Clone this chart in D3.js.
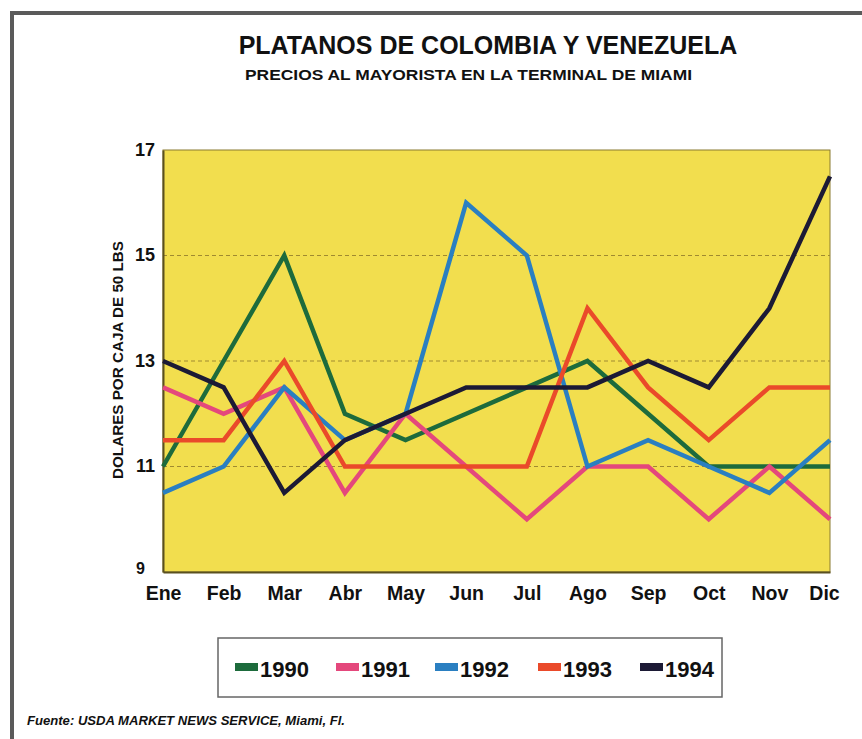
<!DOCTYPE html>
<html>
<head>
<meta charset="utf-8">
<script src="https://cdn.jsdelivr.net/npm/d3@7"></script>
<style>
  body { margin: 0; background: #fff; }
  svg { font-family: "Liberation Sans", Arial, sans-serif; }
</style>
</head>
<body>
<svg id="chart"></svg>
<script>
// Data
const months = ["Ene", "Feb", "Mar", "Abr", "May", "Jun", "Jul", "Ago", "Sep", "Oct", "Nov", "Dic"];
const years = ["1990", "1991", "1992", "1993", "1994"];
const v1990 = [11, 13, 15, 12, 11.5, 12, 12.5, 13, 12, 11, 11, 11];
const v1991 = [12.5, 12, 12.5, 10.5, 12, 11, 10, 11, 11, 10, 11, 10];
const v1992 = [10.5, 11, 12.5, 11.5, 12, 16, 15, 11, 11.5, 11, 10.5, 11.5];
const v1993 = [11.5, 11.5, 13, 11, 11, 11, 11, 14, 12.5, 11.5, 12.5, 12.5];
const v1994 = [13, 12.5, 10.5, 11.5, 12, 12.5, 12.5, 12.5, 13, 12.5, 14, 16.5];
const yTicks = [9, 11, 13, 15, 17];

const series = [v1990, v1991, v1992, v1993, v1994];
const colors = ["#1d6b3c", "#e4487c", "#2a7fc1", "#ea4a2a", "#1c1a35"];

const width = 862;
const height = 739;
const plot = { left: 163, right: 830, top: 150, bottom: 572 };

const svg = d3.select("#chart")
    .attr("width", width)
    .attr("height", height);

// Frame (top and left edges of the page border)
svg.append("line").attr("x1", 10).attr("x2", 862).attr("y1", 13).attr("y2", 13)
    .attr("stroke", "#5a5a5a").attr("stroke-width", 4);
svg.append("line").attr("x1", 12).attr("x2", 12).attr("y1", 11).attr("y2", 739)
    .attr("stroke", "#5a5a5a").attr("stroke-width", 4);

// Titles
svg.append("text")
    .attr("x", 488).attr("y", 54)
    .attr("text-anchor", "middle")
    .attr("font-size", 25).attr("font-weight", "bold")
    .attr("fill", "#111")
    .text("PLATANOS DE COLOMBIA Y VENEZUELA");
svg.append("text")
    .attr("x", 245).attr("y", 80)
    .attr("font-size", 15.5).attr("font-weight", "bold")
    .attr("fill", "#111")
    .attr("textLength", 447).attr("lengthAdjust", "spacingAndGlyphs")
    .text("PRECIOS AL MAYORISTA EN LA TERMINAL DE MIAMI");

const x = d3.scalePoint()
    .domain(months)
    .range([plot.left, plot.right]);

const y = d3.scaleLinear()
    .domain([9, 17])
    .range([plot.bottom, plot.top]);

// Plot background
svg.append("rect")
    .attr("x", plot.left).attr("y", plot.top)
    .attr("width", plot.right - plot.left)
    .attr("height", plot.bottom - plot.top)
    .attr("fill", "#f2de4e")
    .attr("stroke", "#8a7a30").attr("stroke-width", 1);

// Dashed grid lines
svg.append("g")
    .selectAll("line")
    .data(yTicks.filter(d => d > 9 && d < 17))
    .enter().append("line")
    .attr("x1", plot.left).attr("x2", plot.right)
    .attr("y1", d => y(d)).attr("y2", d => y(d))
    .attr("stroke", "#a08a30")
    .attr("stroke-width", 1)
    .attr("stroke-dasharray", "4,3");

// Axes
const yAxis = svg.append("g")
    .attr("transform", `translate(${plot.left},0)`)
    .call(d3.axisLeft(y).tickValues(yTicks).tickSize(0).tickPadding(8));
yAxis.select(".domain").attr("stroke", "#5a5020").attr("stroke-width", 2);
yAxis.selectAll("text")
    .attr("font-size", 18).attr("font-weight", "bold")
    .attr("fill", "#111")
    .attr("dy", "0.3em")
    .style("font-family", "'Liberation Sans', Arial, sans-serif");
yAxis.selectAll(".tick").filter(d => d === 9).select("text")
    .attr("font-size", 16).attr("dy", "0.1em").attr("x", -18);

const xAxis = svg.append("g")
    .attr("transform", `translate(0,${plot.bottom})`)
    .call(d3.axisBottom(x).tickSize(0).tickPadding(14));
xAxis.select(".domain").attr("stroke", "#5a5020").attr("stroke-width", 2);
xAxis.selectAll("text")
    .attr("font-size", 19.5).attr("font-weight", "bold")
    .attr("fill", "#111")
    .style("font-family", "'Liberation Sans', Arial, sans-serif");
xAxis.selectAll(".tick").filter(d => d === "Dic").select("text").attr("dx", -6);

// Y axis title
svg.append("text")
    .attr("transform", `translate(123,${(plot.top + plot.bottom) / 2 - 1}) rotate(-90)`)
    .attr("text-anchor", "middle")
    .attr("font-size", 14.5).attr("font-weight", "bold")
    .attr("fill", "#111")
    .attr("textLength", 238).attr("lengthAdjust", "spacingAndGlyphs")
    .text("DOLARES POR CAJA DE 50 LBS");

// Lines
const line = d3.line()
    .x((d, i) => x(months[i]))
    .y(d => y(d));

svg.append("g")
    .selectAll("path")
    .data(series)
    .enter().append("path")
    .attr("d", line)
    .attr("fill", "none")
    .attr("stroke", (d, i) => colors[i])
    .attr("stroke-width", 4.5)
    .attr("stroke-linejoin", "miter");

// Legend
svg.append("rect")
    .attr("x", 218).attr("y", 638)
    .attr("width", 504).attr("height", 59)
    .attr("fill", "#fff")
    .attr("stroke", "#666").attr("stroke-width", 1.5);

const legendX = [235, 336, 435, 538, 640];
const legend = svg.append("g")
    .selectAll("g")
    .data(years)
    .enter().append("g")
    .attr("transform", (d, i) => `translate(${legendX[i]},667)`);
legend.append("rect")
    .attr("x", 0).attr("y", -4)
    .attr("width", 23).attr("height", 8)
    .attr("fill", (d, i) => colors[i]);
legend.append("text")
    .attr("x", 25).attr("y", 10)
    .attr("font-size", 22).attr("font-weight", "bold")
    .attr("fill", "#111")
    .text(d => d);

// Source
svg.append("text")
    .attr("x", 27).attr("y", 725)
    .attr("font-size", 12.5).attr("font-weight", "bold")
    .attr("font-style", "italic")
    .attr("fill", "#111")
    .attr("textLength", 318).attr("lengthAdjust", "spacingAndGlyphs")
    .text("Fuente: USDA MARKET NEWS SERVICE, Miami, Fl.");
</script>
</body>
</html>
